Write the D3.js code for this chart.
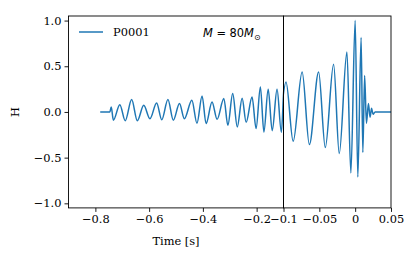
<!DOCTYPE html>
<html>
<head>
<meta charset="utf-8">
<script src="https://cdn.jsdelivr.net/npm/d3@7"></script>
<style>
  body { margin: 0; background: #fff; }
  text { fill: #000; }
</style>
</head>
<body>
<div id="chart"></div>
<script>
'use strict';

// extrema of the waveform
var times = [
  -0.782, -0.746, -0.741, -0.733, -0.709, -0.689, -0.665, -0.644, -0.620, -0.597,
  -0.572, -0.553, -0.530, -0.510, -0.487, -0.469, -0.441, -0.422, -0.403, -0.388,
  -0.366, -0.347, -0.322, -0.307, -0.289, -0.272, -0.254, -0.239, -0.217, -0.202,
  -0.186, -0.173, -0.157, -0.142, -0.124, -0.108,
  -0.0965, -0.0865, -0.074, -0.0639, -0.051, -0.0417, -0.0301, -0.0222, -0.0115, -0.006,
  0.0, 0.0037, 0.0083, 0.0107, 0.0132, 0.0157, 0.0185, 0.0208, 0.0229, 0.025, 0.0278, 0.05
];
var strain = [
  0, 0, 0.055, -0.09, 0.08, -0.096, 0.136, -0.096, 0.073, -0.074,
  0.098, -0.085, 0.136, -0.09, 0.092, -0.074, 0.128, -0.124, 0.175, -0.127,
  0.109, -0.08, 0.147, -0.146, 0.201, -0.164, 0.15, -0.113, 0.164, -0.182,
  0.274, -0.219, 0.248, -0.206, 0.248, -0.222,
  0.328, -0.321, 0.438, -0.357, 0.438, -0.389, 0.522, -0.455, 0.656, -0.667,
  1.0, -0.711, 0.814, -0.444, 0.40, -0.124, 0.092, -0.058, 0.04, -0.025, 0, 0
];

var leftTicks = [-0.8, -0.6, -0.4, -0.2];
var leftTickLabels = ['\u22120.8', '\u22120.6', '\u22120.4', '\u22120.2'];
var rightTicks = [-0.1, -0.05, 0, 0.05];
var rightTickLabels = ['\u22120.1', '\u22120.05', '0', '0.05'];
var yTicks = [-1, -0.5, 0, 0.5, 1];
var yTickLabels = ['\u22121.0', '\u22120.5', '0.0', '0.5', '1.0'];
var seriesName = 'P0001';

var W = 415, H = 259;
var serif = '"DejaVu Serif", serif';
var fs = 11.4;
var blue = '#1f77b4';

var plotTop = 16, plotBottom = 207.9;
var xL = d3.scaleLinear().domain([-0.9, -0.1]).range([68.5, 283.5]);
var xR = d3.scaleLinear().domain([-0.1, 0.05]).range([283.5, 391]);
var y = d3.scaleLinear().domain([-1.05, 1.05]).range([plotBottom, plotTop]);

var pts = times.map(function (t, i) { return [t, strain[i]]; });

var svg = d3.select('#chart')
  .append('svg')
  .attr('width', W)
  .attr('height', H);

var defs = svg.append('defs');
defs.append('clipPath').attr('id', 'clipL')
  .append('rect')
  .attr('x', xL.range()[0]).attr('y', plotTop)
  .attr('width', xL.range()[1] - xL.range()[0]).attr('height', plotBottom - plotTop);
defs.append('clipPath').attr('id', 'clipR')
  .append('rect')
  .attr('x', xR.range()[0]).attr('y', plotTop)
  .attr('width', xR.range()[1] - xR.range()[0]).attr('height', plotBottom - plotTop);

function drawWave (xs, clip) {
  var line = d3.line()
    .x(function (d) { return xs(d[0]); })
    .y(function (d) { return y(d[1]); })
    .curve(d3.curveMonotoneX);
  svg.append('path')
    .datum(pts)
    .attr('clip-path', 'url(#' + clip + ')')
    .attr('d', line)
    .style('fill', 'none')
    .style('stroke', blue)
    .style('stroke-width', 1.5)
    .style('stroke-linejoin', 'round');
}

drawWave(xL, 'clipL');
drawWave(xR, 'clipR');

function styleAxis (g) {
  g.select('.domain').remove();
  g.selectAll('.tick line').attr('stroke', '#000').attr('stroke-width', 0.9);
  g.selectAll('.tick text')
    .style('font-family', serif)
    .style('font-size', fs + 'px')
    .attr('fill', '#000');
}

svg.append('g')
  .attr('transform', 'translate(0,' + plotBottom + ')')
  .call(d3.axisBottom(xL).tickValues(leftTicks)
    .tickFormat(function (d, i) { return leftTickLabels[i]; })
    .tickSize(4).tickPadding(3))
  .call(styleAxis);

svg.append('g')
  .attr('transform', 'translate(0,' + plotBottom + ')')
  .call(d3.axisBottom(xR).tickValues(rightTicks)
    .tickFormat(function (d, i) { return rightTickLabels[i]; })
    .tickSize(4).tickPadding(3))
  .call(styleAxis);

svg.append('g')
  .attr('transform', 'translate(' + xL.range()[0] + ',0)')
  .call(d3.axisLeft(y).tickValues(yTicks)
    .tickFormat(function (d, i) { return yTickLabels[i]; })
    .tickSize(4).tickPadding(3))
  .call(styleAxis);

// frames of the two panels
[xL, xR].forEach(function (xs) {
  svg.append('rect')
    .attr('x', xs.range()[0])
    .attr('y', plotTop)
    .attr('width', xs.range()[1] - xs.range()[0])
    .attr('height', plotBottom - plotTop)
    .style('fill', 'none')
    .style('stroke', '#000')
    .style('stroke-width', 0.9);
});

svg.append('text')
  .attr('transform', 'translate(15,' + y(0) + ') rotate(-90)')
  .attr('text-anchor', 'middle')
  .attr('dy', '0.35em')
  .style('font-family', serif)
  .style('font-size', fs + 'px')
  .text('H');

svg.append('text')
  .attr('x', (xL.range()[0] + xL.range()[1]) / 2)
  .attr('y', 245)
  .attr('text-anchor', 'middle')
  .style('font-family', serif)
  .style('font-size', fs + 'px')
  .text('Time [s]');

// legend
svg.append('line')
  .attr('x1', 79).attr('x2', 103)
  .attr('y1', 32).attr('y2', 32)
  .style('stroke', blue)
  .style('stroke-width', 1.5);
svg.append('text')
  .attr('x', 113)
  .attr('y', 36)
  .style('font-family', serif)
  .style('font-size', fs + 'px')
  .text(seriesName);

var mass = svg.append('text')
  .attr('x', 203)
  .attr('y', 37)
  .style('font-family', '"DejaVu Sans", sans-serif')
  .style('font-size', fs + 'px');
mass.append('tspan').style('font-style', 'italic').text('M');
mass.append('tspan').text(' = 80');
mass.append('tspan').style('font-style', 'italic').text('M');
mass.append('tspan').attr('dy', 3).style('font-size', '8px').text('\u2299');
</script>
</body>
</html>
